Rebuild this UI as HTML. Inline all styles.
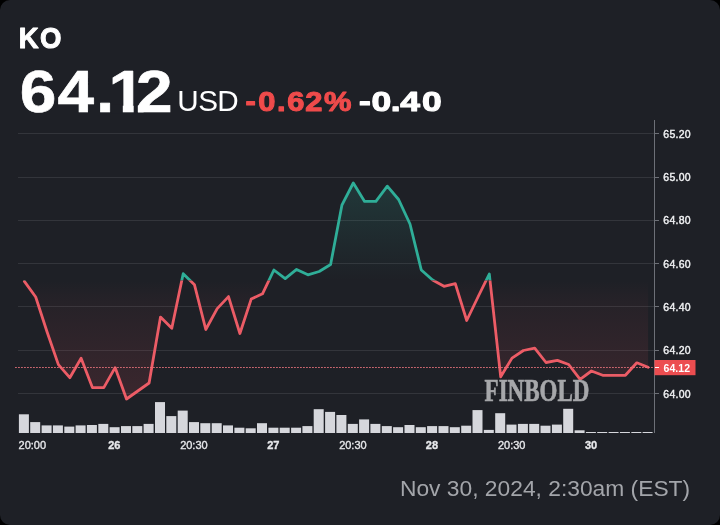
<!DOCTYPE html>
<html><head><meta charset="utf-8"><style>
html,body{margin:0;padding:0;background:#000;width:720px;height:525px;overflow:hidden}
.card{position:absolute;left:0;top:0;width:720px;height:525px;border-radius:10px;background:#1e2026;overflow:hidden;font-family:"Liberation Sans",Arial,sans-serif}
.t{position:absolute;white-space:nowrap;line-height:1;transform-origin:0 0}
svg{position:absolute;left:0;top:0}
</style></head><body><div class="card">
<svg width="720" height="525" viewBox="0 0 720 525">
<defs>
<linearGradient id="gt" gradientUnits="userSpaceOnUse" x1="0" y1="120" x2="0" y2="280.5">
<stop offset="0" stop-color="#2fae98" stop-opacity="0.28"/><stop offset="1" stop-color="#2fae98" stop-opacity="0"/></linearGradient>
<linearGradient id="gb" gradientUnits="userSpaceOnUse" x1="0" y1="280.5" x2="0" y2="433">
<stop offset="0" stop-color="#f7525f" stop-opacity="0"/><stop offset="0.13" stop-color="#f7525f" stop-opacity="0.035"/><stop offset="1" stop-color="#f7525f" stop-opacity="0.17"/></linearGradient>
<clipPath id="ct"><rect x="0" y="0" width="720" height="280.5"/></clipPath>
<clipPath id="cb"><rect x="0" y="280.5" width="720" height="244.5"/></clipPath>
</defs>
<g fill="#33353b"><rect x="18" y="133" width="636" height="1"/><rect x="18" y="177" width="636" height="1"/><rect x="18" y="220" width="636" height="1"/><rect x="18" y="263" width="636" height="1"/><rect x="18" y="306" width="636" height="1"/><rect x="18" y="350" width="636" height="1"/><rect x="18" y="393" width="636" height="1"/></g>
<g clip-path="url(#ct)"><path d="M24.4,280.5 L24.4,281.4 L35.7,297.0 L47.1,332.0 L58.4,364.6 L69.8,377.7 L81.1,358.3 L92.4,387.6 L103.8,387.6 L115.1,367.6 L126.5,399.0 L137.8,391.0 L149.1,383.0 L160.5,317.1 L171.8,328.2 L183.2,273.7 L194.5,284.8 L205.8,329.5 L217.2,308.6 L228.5,296.6 L239.9,333.5 L251.2,299.1 L262.5,293.8 L273.9,270.0 L285.2,278.6 L296.6,269.4 L307.9,274.8 L319.2,271.5 L330.6,264.5 L341.9,205.2 L353.3,183.0 L364.6,201.4 L375.9,201.4 L387.3,186.2 L398.6,199.5 L410.0,224.0 L421.3,270.0 L432.6,280.0 L444.0,286.3 L455.3,283.6 L466.7,320.5 L478.0,297.0 L489.3,274.0 L500.7,376.8 L512.0,358.1 L523.4,350.5 L534.7,348.2 L546.0,362.5 L557.4,360.4 L568.7,364.5 L580.1,379.3 L591.4,371.0 L602.7,375.3 L614.1,375.3 L625.4,375.3 L636.8,362.8 L648.1,367.3 L648.1,280.5 Z" fill="url(#gt)"/><polyline points="24.4,281.4 35.7,297.0 47.1,332.0 58.4,364.6 69.8,377.7 81.1,358.3 92.4,387.6 103.8,387.6 115.1,367.6 126.5,399.0 137.8,391.0 149.1,383.0 160.5,317.1 171.8,328.2 183.2,273.7 194.5,284.8 205.8,329.5 217.2,308.6 228.5,296.6 239.9,333.5 251.2,299.1 262.5,293.8 273.9,270.0 285.2,278.6 296.6,269.4 307.9,274.8 319.2,271.5 330.6,264.5 341.9,205.2 353.3,183.0 364.6,201.4 375.9,201.4 387.3,186.2 398.6,199.5 410.0,224.0 421.3,270.0 432.6,280.0 444.0,286.3 455.3,283.6 466.7,320.5 478.0,297.0 489.3,274.0 500.7,376.8 512.0,358.1 523.4,350.5 534.7,348.2 546.0,362.5 557.4,360.4 568.7,364.5 580.1,379.3 591.4,371.0 602.7,375.3 614.1,375.3 625.4,375.3 636.8,362.8 648.1,367.3" fill="none" stroke="#2fae98" stroke-width="2.8" stroke-linejoin="round" stroke-linecap="round"/></g>
<g clip-path="url(#cb)"><path d="M24.4,280.5 L24.4,281.4 L35.7,297.0 L47.1,332.0 L58.4,364.6 L69.8,377.7 L81.1,358.3 L92.4,387.6 L103.8,387.6 L115.1,367.6 L126.5,399.0 L137.8,391.0 L149.1,383.0 L160.5,317.1 L171.8,328.2 L183.2,273.7 L194.5,284.8 L205.8,329.5 L217.2,308.6 L228.5,296.6 L239.9,333.5 L251.2,299.1 L262.5,293.8 L273.9,270.0 L285.2,278.6 L296.6,269.4 L307.9,274.8 L319.2,271.5 L330.6,264.5 L341.9,205.2 L353.3,183.0 L364.6,201.4 L375.9,201.4 L387.3,186.2 L398.6,199.5 L410.0,224.0 L421.3,270.0 L432.6,280.0 L444.0,286.3 L455.3,283.6 L466.7,320.5 L478.0,297.0 L489.3,274.0 L500.7,376.8 L512.0,358.1 L523.4,350.5 L534.7,348.2 L546.0,362.5 L557.4,360.4 L568.7,364.5 L580.1,379.3 L591.4,371.0 L602.7,375.3 L614.1,375.3 L625.4,375.3 L636.8,362.8 L648.1,367.3 L648.1,280.5 Z" fill="url(#gb)"/><polyline points="24.4,281.4 35.7,297.0 47.1,332.0 58.4,364.6 69.8,377.7 81.1,358.3 92.4,387.6 103.8,387.6 115.1,367.6 126.5,399.0 137.8,391.0 149.1,383.0 160.5,317.1 171.8,328.2 183.2,273.7 194.5,284.8 205.8,329.5 217.2,308.6 228.5,296.6 239.9,333.5 251.2,299.1 262.5,293.8 273.9,270.0 285.2,278.6 296.6,269.4 307.9,274.8 319.2,271.5 330.6,264.5 341.9,205.2 353.3,183.0 364.6,201.4 375.9,201.4 387.3,186.2 398.6,199.5 410.0,224.0 421.3,270.0 432.6,280.0 444.0,286.3 455.3,283.6 466.7,320.5 478.0,297.0 489.3,274.0 500.7,376.8 512.0,358.1 523.4,350.5 534.7,348.2 546.0,362.5 557.4,360.4 568.7,364.5 580.1,379.3 591.4,371.0 602.7,375.3 614.1,375.3 625.4,375.3 636.8,362.8 648.1,367.3" fill="none" stroke="#ec5c66" stroke-width="2.8" stroke-linejoin="round" stroke-linecap="round"/></g>
<line x1="15.2" y1="367.5" x2="654" y2="367.5" stroke="#f0767f" stroke-width="1" stroke-dasharray="1.5 1.5"/>
<text x="484.6" y="401" font-family="Liberation Serif,serif" font-weight="bold" font-size="32" fill="#a6a7aa" stroke="#a6a7aa" stroke-width="0.7" textLength="104.8" lengthAdjust="spacingAndGlyphs">FINBOLD</text>
<g fill="#d6d7dc"><rect x="18.9" y="414.3" width="10" height="18.7"/><rect x="30.2" y="422.1" width="10" height="10.9"/><rect x="41.6" y="425.4" width="10" height="7.6"/><rect x="52.9" y="425.4" width="10" height="7.6"/><rect x="64.3" y="426.6" width="10" height="6.4"/><rect x="75.6" y="425.4" width="10" height="7.6"/><rect x="86.9" y="425.0" width="10" height="8.0"/><rect x="98.3" y="423.9" width="10" height="9.1"/><rect x="109.6" y="427.2" width="10" height="5.8"/><rect x="121.0" y="426.1" width="10" height="6.9"/><rect x="132.3" y="426.1" width="10" height="6.9"/><rect x="143.6" y="423.9" width="10" height="9.1"/><rect x="155.0" y="402.1" width="10" height="30.9"/><rect x="166.3" y="416.1" width="10" height="16.9"/><rect x="177.7" y="410.6" width="10" height="22.4"/><rect x="189.0" y="422.1" width="10" height="10.9"/><rect x="200.3" y="423.2" width="10" height="9.8"/><rect x="211.7" y="423.2" width="10" height="9.8"/><rect x="223.0" y="425.4" width="10" height="7.6"/><rect x="234.4" y="427.7" width="10" height="5.3"/><rect x="245.7" y="428.3" width="10" height="4.7"/><rect x="257.0" y="423.2" width="10" height="9.8"/><rect x="268.4" y="427.7" width="10" height="5.3"/><rect x="279.7" y="427.7" width="10" height="5.3"/><rect x="291.1" y="427.7" width="10" height="5.3"/><rect x="302.4" y="426.1" width="10" height="6.9"/><rect x="313.7" y="409.2" width="10" height="23.8"/><rect x="325.1" y="411.9" width="10" height="21.1"/><rect x="336.4" y="415.0" width="10" height="18.0"/><rect x="347.8" y="423.9" width="10" height="9.1"/><rect x="359.1" y="419.4" width="10" height="13.6"/><rect x="370.4" y="423.9" width="10" height="9.1"/><rect x="381.8" y="426.1" width="10" height="6.9"/><rect x="393.1" y="427.2" width="10" height="5.8"/><rect x="404.5" y="425.0" width="10" height="8.0"/><rect x="415.8" y="427.2" width="10" height="5.8"/><rect x="427.1" y="426.1" width="10" height="6.9"/><rect x="438.5" y="426.1" width="10" height="6.9"/><rect x="449.8" y="427.2" width="10" height="5.8"/><rect x="461.2" y="425.7" width="10" height="7.3"/><rect x="472.5" y="410.1" width="10" height="22.9"/><rect x="483.8" y="429.9" width="10" height="3.1"/><rect x="495.2" y="413.2" width="10" height="19.8"/><rect x="506.5" y="424.6" width="10" height="8.4"/><rect x="517.9" y="423.9" width="10" height="9.1"/><rect x="529.2" y="423.9" width="10" height="9.1"/><rect x="540.5" y="425.7" width="10" height="7.3"/><rect x="551.9" y="424.6" width="10" height="8.4"/><rect x="563.2" y="408.8" width="10" height="24.2"/><rect x="574.6" y="430.3" width="10" height="2.7"/><rect x="585.9" y="432.0" width="10" height="1.0"/><rect x="597.2" y="432.0" width="10" height="1.0"/><rect x="608.6" y="432.0" width="10" height="1.0"/><rect x="619.9" y="432.0" width="10" height="1.0"/><rect x="631.3" y="432.0" width="10" height="1.0"/><rect x="642.6" y="432.0" width="10" height="1.0"/></g>
<rect x="654" y="120" width="1" height="313" fill="#6d7077"/>
<g fill="#6d7077"><rect x="655" y="133" width="4" height="1"/><rect x="655" y="177" width="4" height="1"/><rect x="655" y="220" width="4" height="1"/><rect x="655" y="263" width="4" height="1"/><rect x="655" y="306" width="4" height="1"/><rect x="655" y="350" width="4" height="1"/><rect x="655" y="393" width="4" height="1"/></g>
<g font-family="Liberation Sans,Arial,sans-serif" font-size="10.5" letter-spacing="0.25" fill="#f0f1f3" stroke="#f0f1f3" stroke-width="0.4"><text x="663.3" y="137.5">65.20</text><text x="663.3" y="180.8">65.00</text><text x="663.3" y="224.2">64.80</text><text x="663.3" y="267.5">64.60</text><text x="663.3" y="310.8">64.40</text><text x="663.3" y="354.2">64.20</text><text x="663.3" y="397.5">64.00</text></g>
<rect x="654.5" y="360" width="41" height="15.2" fill="#ec4d50"/>
<rect x="655" y="367" width="4" height="1" fill="#fff"/>
<text x="663.5" y="371.6" font-family="Liberation Sans,Arial,sans-serif" font-size="10.5" letter-spacing="0.05" font-weight="bold" fill="#fff">64.12</text>
<g font-family="Liberation Sans,Arial,sans-serif" font-size="11" fill="#e6e7ea" stroke="#e6e7ea" stroke-width="0.35"><text x="32.3" y="449" text-anchor="middle">20:00</text><text x="114.3" y="449" text-anchor="middle" font-weight="bold">26</text><text x="193.9" y="449" text-anchor="middle">20:30</text><text x="273.3" y="449" text-anchor="middle" font-weight="bold">27</text><text x="352.9" y="449" text-anchor="middle">20:30</text><text x="431.9" y="449" text-anchor="middle" font-weight="bold">28</text><text x="511.7" y="449" text-anchor="middle">20:30</text><text x="591" y="449" text-anchor="middle" font-weight="bold">30</text></g>
<g font-family="Liberation Sans,Arial,sans-serif"><text transform="scale(0.9635,1)" x="19.57 41.52" y="48.21" font-size="28.59" font-weight="bold" fill="#fff" stroke="#fff" stroke-width="1.00" stroke-linejoin="round">KO</text><text transform="scale(1.1045,1)" x="17.86 52.04 86.82 98.33 123.09" y="112.08" font-size="59.55" font-weight="bold" fill="#fff" stroke="#fff" stroke-width="0.60" stroke-linejoin="round">64.12</text><text transform="scale(1.0021,1)" x="176.96 197.86 216.88" y="111.32" font-size="29.60" font-weight="normal" fill="#fff">USD</text><text transform="scale(1.0997,1)" x="223.25 234.80 251.91 261.21 277.67 294.60" y="110.89" font-size="28.05" font-weight="bold" fill="#ef4b4b" stroke="#ef4b4b" stroke-width="1.10" stroke-linejoin="round">-0.62%</text><text transform="scale(1.2448,1)" x="288.35 298.54 313.85 321.63 338.99" y="110.97" font-size="28.45" font-weight="bold" fill="#fff" stroke="#fff" stroke-width="1.10" stroke-linejoin="round">-0.40</text></g><g fill="#1e2026"><rect x="111.2" y="104.6" width="11.6" height="9"/><rect x="133.7" y="104.6" width="4.1" height="9"/></g>
</svg>
<div class="t" style="left:399.98px;top:477.25px;font-size:22.8px;color:#a3a5aa;transform:scaleX(1.0000)">Nov 30, 2024, 2:30am (EST)</div>
</div></body></html>
